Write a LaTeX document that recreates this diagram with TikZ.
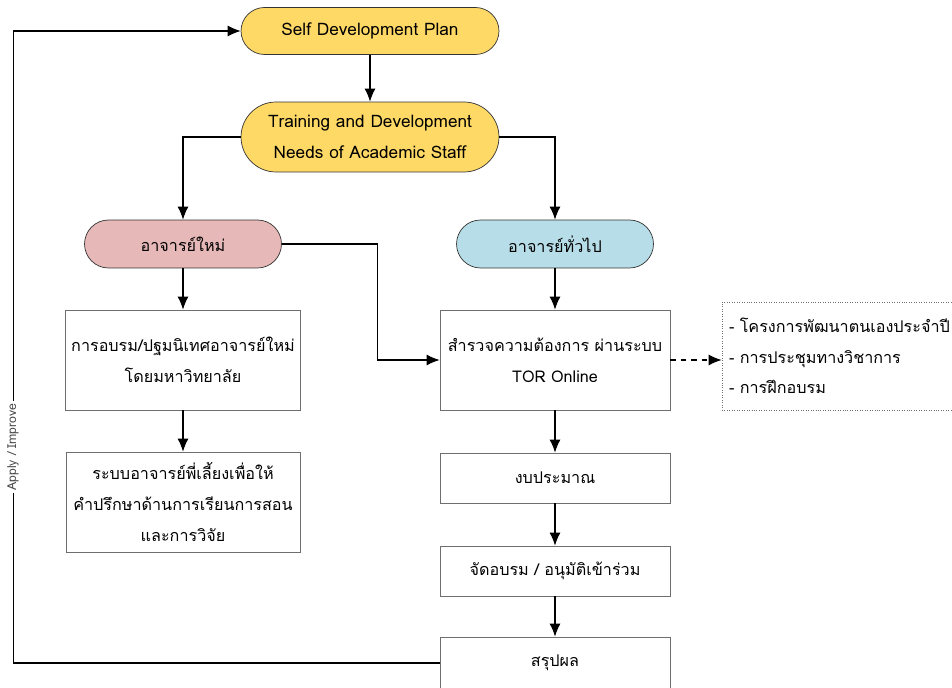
\documentclass[tikz,border=0pt]{standalone}
\usepackage{fontspec}
\setmainfont[Script=Thai]{Loma}
\usepackage{tikz}
\usetikzlibrary{arrows.meta,calc}
\definecolor{planyellow}{RGB}{255,217,102}
\definecolor{newpink}{RGB}{230,184,183}
\definecolor{genblue}{RGB}{183,222,232}
\definecolor{boxgray}{RGB}{110,110,110}
\begin{document}
\begin{tikzpicture}[x=0.02cm,y=-0.02cm,
	txt/.style={font=\fontsize{9.2}{17.5}\selectfont,align=center},
	pill/.style={txt,draw=black!80,thin,minimum width=5.16cm},
	stepbox/.style={txt,draw=boxgray,thin,fill=white},
	arr/.style={-{Latex[length=2.6mm,width=2.2mm]},line width=0.7pt}]
						\useasboundingbox (0,0) rectangle (952,688);
						
						\node[pill,fill=planyellow,minimum height=0.94cm,rounded corners=0.47cm] (sdp) at (370,31) {\fontsize{9.8}{17.5}\selectfont Self Development Plan};
						\node[pill,fill=planyellow,minimum height=1.4cm,rounded corners=0.7cm] (tdn) at (370,137) {\fontsize{9.8}{17.5}\selectfont Training and Development\\\fontsize{9.8}{17.5}\selectfont Needs of Academic Staff};
						\node[pill,fill=newpink,minimum width=3.94cm,minimum height=0.96cm,rounded corners=0.48cm] (newt) at (183,244) {อาจารย์ใหม่};
						\node[pill,fill=genblue,minimum width=3.94cm,minimum height=0.96cm,rounded corners=0.48cm] (gent) at (555,244) {อาจารย์ทั่วไป};
						
						\node[stepbox,minimum width=4.68cm,minimum height=2cm] (orient) at (183,360) {การอบรม/ปฐมนิเทศอาจารย์ใหม่\\โดยมหาวิทยาลัย};
						\node[stepbox,minimum width=4.68cm,minimum height=2cm] (mentor) at (183,502) {ระบบอาจารย์พี่เลี้ยงเพื่อให้\\คำปรึกษาด้านการเรียนการสอน\\และการวิจัย};
						
						\node[stepbox,minimum width=4.6cm,minimum height=2cm] (svy) at (555,360) {สำรวจความต้องการ ผ่านระบบ\\TOR Online};
						\node[stepbox,minimum width=4.6cm,minimum height=1cm] (bud) at (555,478) {งบประมาณ};
						\node[stepbox,minimum width=4.6cm,minimum height=1cm] (arr) at (555,571) {จัดอบรม / อนุมัติเข้าร่วม};
						\node[stepbox,minimum width=4.6cm,minimum height=1.04cm] (sum) at (555,663) {สรุปผล};
						
						\node[txt,draw=boxgray,densely dotted,align=left,text width=4.6cm,inner xsep=0.14cm,minimum height=2.16cm] (opt) at (844,356) {-~โครงการพัฒนาตนเองประจำปี\\-~การประชุมทางวิชาการ\\-~การฝึกอบรม};
						
						\draw[arr] (sdp) -- (tdn);
						\draw[arr] (tdn.west) -| (newt.north);
						\draw[arr] (tdn.east) -| (gent.north);
						\draw[arr] (newt.east) -- ++(96,0) |- (svy.west);
						\draw[arr] (newt) -- (orient);
						\draw[arr] (orient) -- (mentor);
						\draw[arr] (gent) -- (svy);
						\draw[arr] (svy) -- (bud);
						\draw[arr] (bud) -- (arr);
						\draw[arr] (arr) -- (sum);
						\draw[arr,dashed] (svy.east) -- (svy.east -| opt.west);
						
						\draw[arr,line width=0.6pt] (sum.west) -- ++(-426,0) |- (sdp.west);
						\node[rotate=90,fill=white,text=black!70,inner sep=1pt,font=\fontsize{7}{8}\selectfont] (apply) at (13,447) {Apply / Improve};
					\end{tikzpicture}
\end{document}
